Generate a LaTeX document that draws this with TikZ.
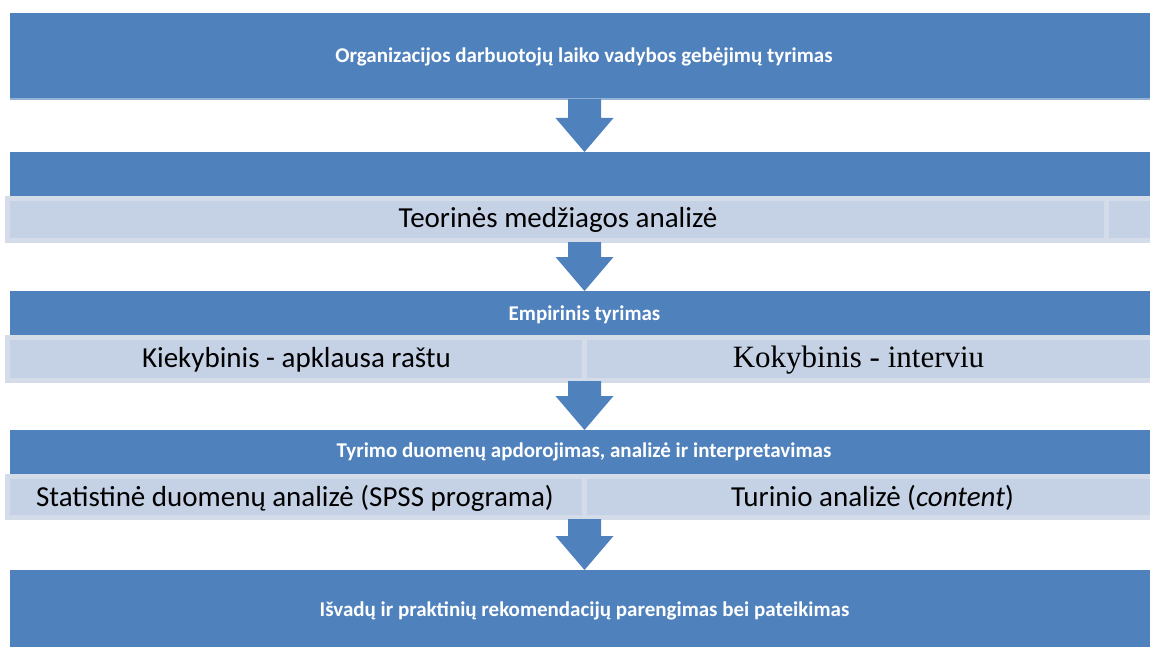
\documentclass[tikz,border=0pt]{standalone}
\usepackage{fontspec}
\setmainfont{Carlito}
\newfontfamily\serifrm{Liberation Serif}
\usetikzlibrary{calc}
\definecolor{barblue}{HTML}{4F81BD}
\definecolor{lightfill}{HTML}{C5D1E5}
\definecolor{lightedge}{HTML}{D4DCEA}
\definecolor{barline}{HTML}{95B3D7}
\newcommand{\blockarr}[3]{% from, to, head height
  \fill[barblue] let \p1=(#1), \p2=(#2) in
    (\x1-16.5pt,\y1) -- (\x1+16.5pt,\y1) -- (\x1+16.5pt,\y2+#3) --
    (\x1+29pt,\y2+#3) -- (\x2,\y2) -- (\x1-29pt,\y2+#3) --
    (\x1-16.5pt,\y2+#3) -- cycle;}
\begin{document}
\begin{tikzpicture}[x=1pt,y=-1pt,
  bluebar/.style={fill=barblue, draw=none, inner sep=0pt, outer sep=0pt, anchor=north west, minimum width=1140pt},
  cell/.style={fill=lightfill, draw=lightedge, line width=5pt, inner sep=0pt, outer sep=0pt},
  headtext/.style={text=white, font=\bfseries\fontsize{21}{21}\selectfont, inner sep=0pt, anchor=base},
  celltext/.style={text=black, font=\fontsize{29}{29}\selectfont, inner sep=0pt, anchor=base},
  serifcelltext/.style={text=black, font=\serifrm\fontsize{31}{31}\selectfont, inner sep=0pt, anchor=base}]
\useasboundingbox (0,0) rectangle (1150,647);
% bars
\node[bluebar, minimum height=86pt] (b1) at (10,13) {};
\draw[barline, line width=1.5pt] (b1.south west) -- (b1.south east);
\node[bluebar, minimum height=45pt] (b2) at (10,152) {};
\node[bluebar, minimum height=44pt] (b3) at (10,291) {};
\node[bluebar, minimum height=44pt] (b4) at (10,430) {};
\node[bluebar, minimum height=80pt] (b5) at (10,570) {};
% light cells
\node[cell, minimum width=1099pt, minimum height=42pt] (c2a) at (557,219.5) {};
\node[cell, minimum width=48.5pt, minimum height=42pt] (c2b) at (1130.75,219.5) {};
\node[cell, minimum width=577pt, minimum height=43pt] (c3a) at (296,359) {};
\node[cell, minimum width=570.5pt, minimum height=43pt] (c3b) at (869.75,359) {};
\node[cell, minimum width=577pt, minimum height=41pt] (c4a) at (296,497) {};
\node[cell, minimum width=570.5pt, minimum height=41pt] (c4b) at (869.75,497) {};
% arrows
\coordinate (a1s) at (584.5,99);  \coordinate (a1e) at (584.5,152);
\coordinate (a2s) at (584.5,242); \coordinate (a2e) at (584.5,291);
\coordinate (a3s) at (584.5,381); \coordinate (a3e) at (584.5,430);
\coordinate (a4s) at (584.5,519); \coordinate (a4e) at (584.5,570);
\blockarr{a1s}{a1e}{34pt}
\blockarr{a2s}{a2e}{34pt}
\blockarr{a3s}{a3e}{34pt}
\blockarr{a4s}{a4e}{34pt}
% texts
\node[headtext] (t1) at (584,63) {Organizacijos darbuotojų laiko vadybos gebėjimų tyrimas};
\node[celltext] (t2) at (558,227) {Teorinės medžiagos analizė};
\node[headtext] (t3) at (584.5,320) {Empirinis tyrimas};
\node[celltext] (t3a) at (296.5,367) {Kiekybinis - apklausa raštu};
\node[serifcelltext] (t3b) at (858.5,367) {Kokybinis - interviu};
\node[headtext] (t4) at (584,457) {Tyrimo duomenų apdorojimas, analizė ir interpretavimas};
\node[celltext] (t4a) at (295,506) {Statistinė duomenų analizė (SPSS programa)};
\node[celltext] (t4b) at (872.5,506) {Turinio analizė (\textit{content})};
\node[headtext] (t5) at (584.5,616) {Išvadų ir praktinių rekomendacijų parengimas bei pateikimas};
\end{tikzpicture}
\end{document}
